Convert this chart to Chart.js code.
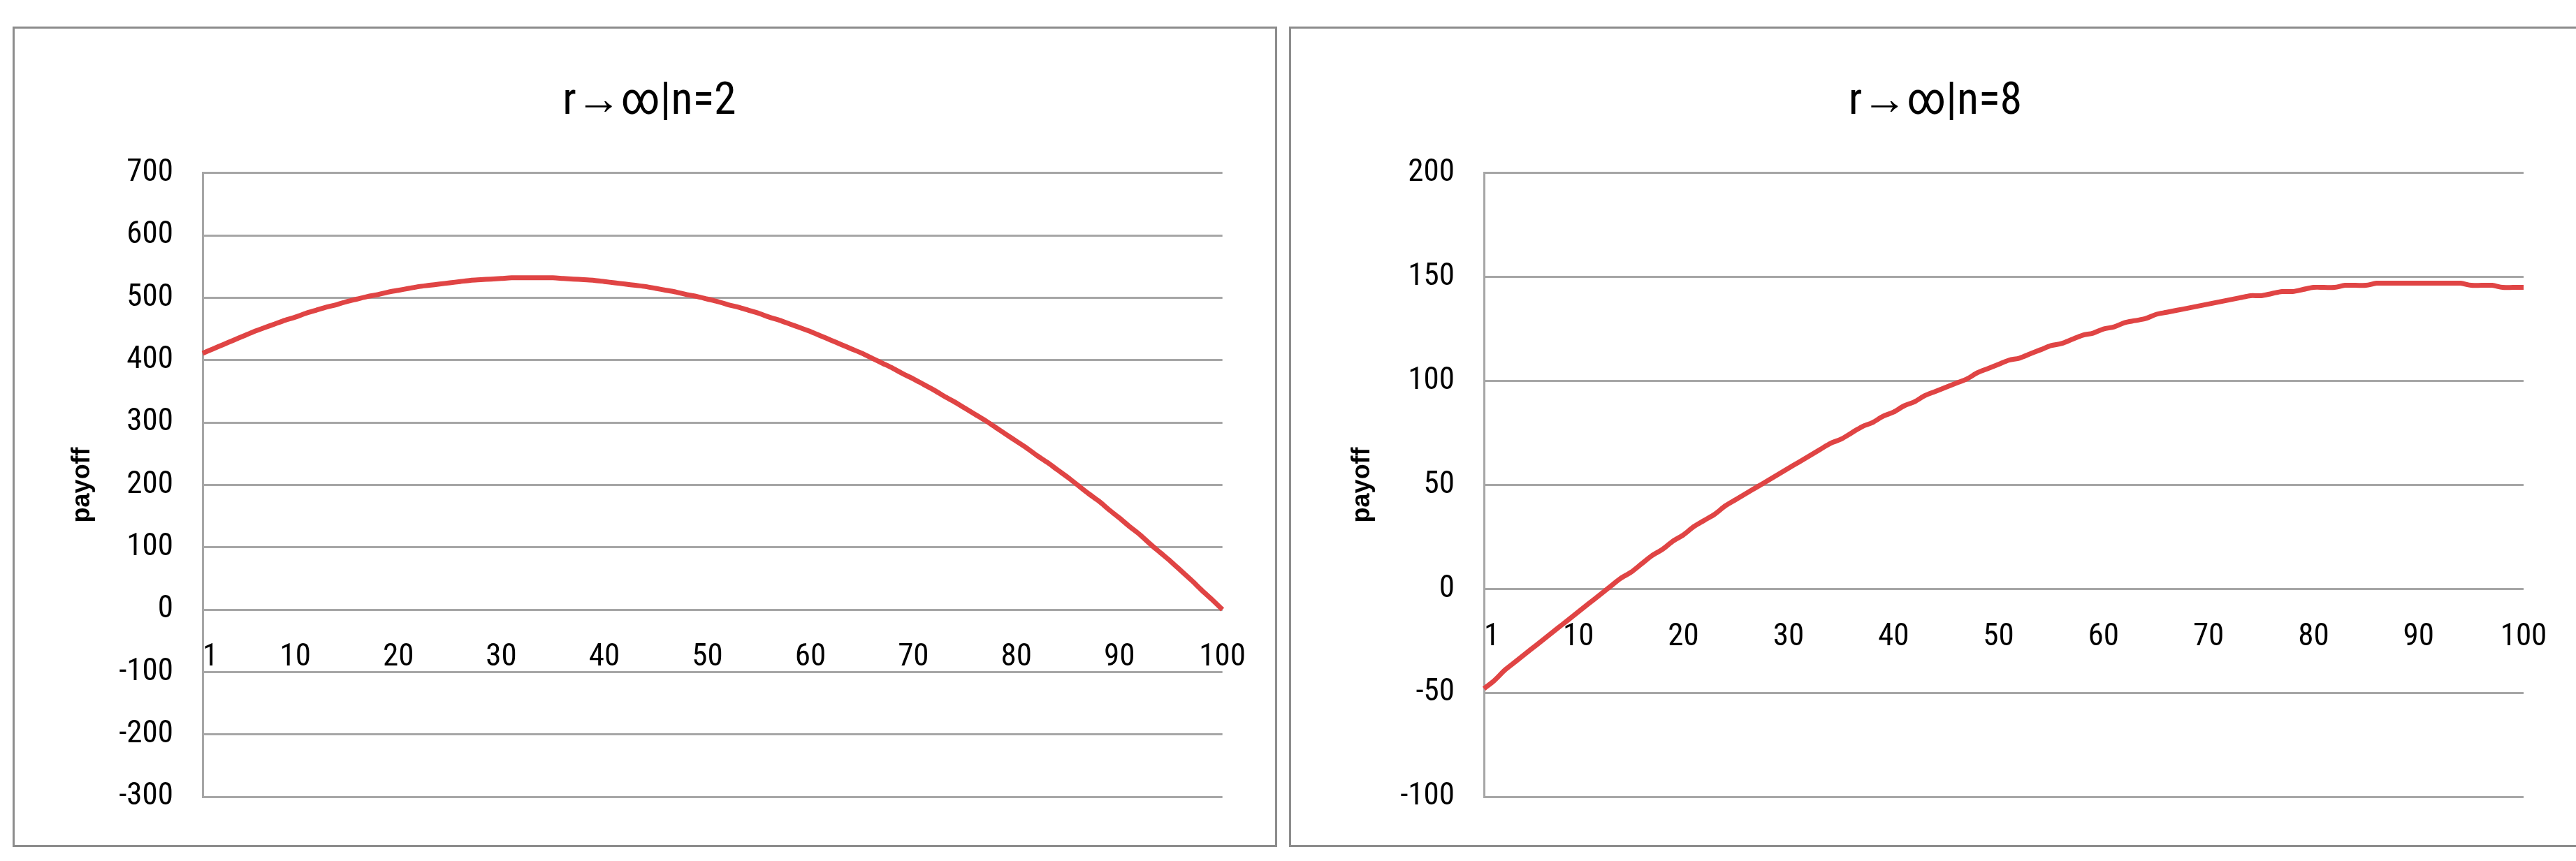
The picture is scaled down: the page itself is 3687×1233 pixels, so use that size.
<!DOCTYPE html>
<html><head><meta charset="utf-8">
<script src="https://cdn.jsdelivr.net/npm/chart.js@4"></script>
<style>
html,body{margin:0;padding:0;background:#fff;width:3687px;height:1233px;overflow:hidden}
.frame{position:absolute;border:3px solid #8c8c8c;box-sizing:border-box;background:#fff}
canvas{display:block}
</style></head><body>
<div class="frame" id="f1" style="left:18px;top:38px;width:1810px;height:1175px"><canvas id="c1"></canvas></div>
<div class="frame" id="f2" style="left:1845px;top:38px;width:1850px;height:1175px"><canvas id="c2"></canvas></div>
<script>
const categories = Array.from({length:100},(_, i)=>String(i+1));
const tickLabelsShown = ["1","10","20","30","40","50","60","70","80","90","100"];
const payoffN2 = [411,418,425,432,439,446,452,458,464,469,475,480,485,489,494,498,502,505,509,512,515,518,520,522,524,526,528,529,530,531,532,532,532,532,532,531,530,529,528,526,524,522,520,518,515,512,509,505,502,498,494,489,485,480,475,469,464,458,452,446,439,432,425,418,411,403,395,387,378,370,361,352,342,333,323,313,303,292,281,270,259,247,236,224,212,199,186,174,160,147,133,120,105,91,77,62,47,31,16,0];
const payoffN8 = [-48,-44,-39,-35,-31,-27,-23,-19,-15,-11,-7,-3,1,5,8,12,16,19,23,26,30,33,36,40,43,46,49,52,55,58,61,64,67,70,72,75,78,80,83,85,88,90,93,95,97,99,101,104,106,108,110,111,113,115,117,118,120,122,123,125,126,128,129,130,132,133,134,135,136,137,138,139,140,141,141,142,143,143,144,145,145,145,146,146,146,147,147,147,147,147,147,147,147,147,146,146,146,145,145,145];
const titles = ["r\u2192\u221E|n=2","r\u2192\u221E|n=8"];

const FONT = "'Liberation Sans Narrow','Roboto Condensed','Liberation Sans',sans-serif";
function make(id, data, title, min, max, step, pad){
  const cv = document.getElementById(id);
  const fr = cv.parentElement;
  cv.width = fr.clientWidth; cv.height = fr.clientHeight;
  cv.style.width = fr.clientWidth+'px'; cv.style.height = fr.clientHeight+'px';
  new Chart(cv, {
    type:'line',
    data:{labels:categories, datasets:[{data, borderColor:'#e04444', borderWidth:7, pointRadius:0, tension:0.3, fill:false}]},
    options:{
      responsive:false, animation:false, devicePixelRatio:1,
      layout:{padding:{left:pad.left, right:pad.right, top:0, bottom:pad.bottom}},
      plugins:{legend:{display:false}, tooltip:{enabled:false},
        title:{display:true, text:title, color:'#000', font:{family:FONT, size:64, weight:'normal'}, padding:{top:68, bottom:62}}},
      scales:{
        x:{type:'category', position:{y:0}, offset:false,
          grid:{display:false, drawTicks:false}, border:{display:false},
          ticks:{autoSkip:false, maxRotation:0, padding:42, color:'#000', font:{family:FONT, size:45},
            callback:(v,i)=> tickLabelsShown.includes(categories[i]) ? (i===0 ? '\u20071' : categories[i]) : null}},
        y:{min, max, grid:{color:'#a6a6a6', lineWidth:3, drawTicks:false}, border:{display:true, color:'#a6a6a6', width:3},
          afterFit:s=>{s.width = pad.axisW;},
          ticks:{stepSize:step, padding:42, color:'#000', font:{family:FONT, size:45}},
          title:{display:true, text:'payoff', color:'#000', font:{family:"'Liberation Sans',sans-serif", size:36, weight:'bold'}, padding:0}}
      }
    }
  });
}
make('c1', payoffN2, titles[0], -300, 700, 100, {left:75, right:62, bottom:52, axisW:194});
make('c2', payoffN8, titles[1], -100, 200, 50, {left:80, right:80, bottom:52, axisW:196});
</script></body></html>
